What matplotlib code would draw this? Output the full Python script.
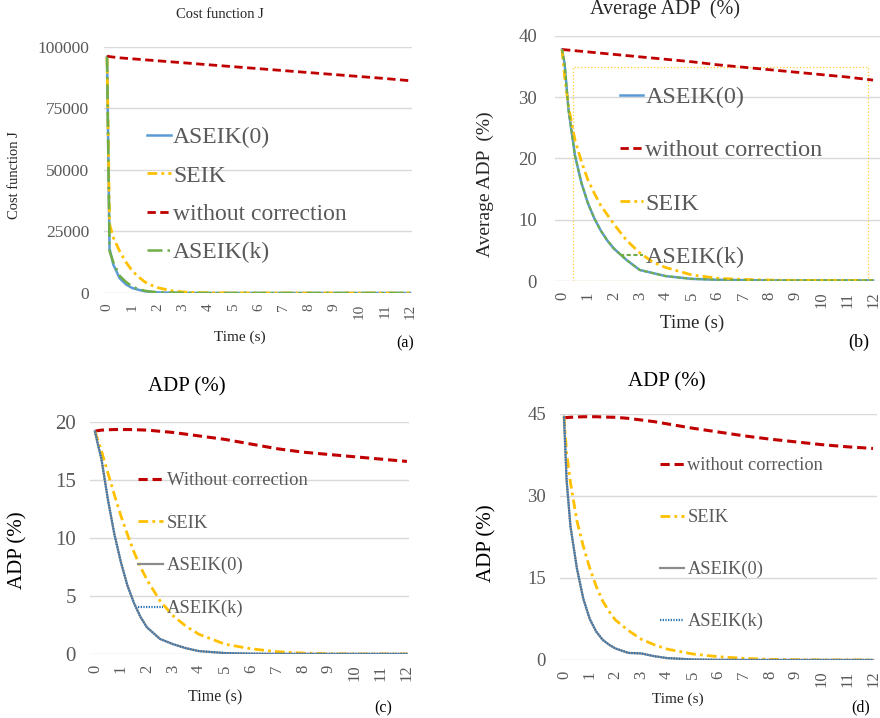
import numpy as np
import matplotlib
matplotlib.use('Agg')
import matplotlib.pyplot as plt
from matplotlib.patches import Rectangle

plt.rcParams['font.family'] = ['Liberation Serif', 'DejaVu Serif']

# sample times (s), shared by every curve
t = [0, 0.1, 0.25, 0.5, 0.75, 1, 1.25, 1.5, 1.75, 2, 2.5, 3, 3.5, 4, 5, 6, 7, 8, 9, 10, 11, 12]

# (a) cost function J
a_aseik0 = [96000, 18000, 11500, 6000, 3500, 2000, 1300, 700, 450, 250, 120, 50, 20, 0, 0, 0, 0, 0, 0, 0, 0, 0]
a_seik = [96000, 28000, 22500, 17000, 12500, 9000, 6500, 4500, 3200, 2200, 1000, 400, 200, 100, 0, 0, 0, 0, 0, 0, 0, 0]
a_nocorr = [96300, 96100, 95900, 95600, 95400, 95200, 95000, 94800, 94600, 94400, 94000, 93600, 93200, 92800,
            92000, 91200, 90400, 89600, 88800, 88000, 87200, 86300]
a_aseikk = [96000, 17000, 12500, 7000, 4500, 2600, 1600, 900, 550, 300, 150, 60, 25, 0, 0, 0, 0, 0, 0, 0, 0, 0]

# (b) average ADP (%)
b_aseik0 = [37.8, 35.5, 28.0, 20.5, 16.0, 12.7, 10.2, 8.2, 6.6, 5.3, 3.4, 1.8, 1.3, 0.8, 0.35, 0.2, 0.15, 0.1, 0.1, 0.1, 0.1, 0.1]
b_seik = [37.8, 33.5, 28.5, 23.0, 19.5, 16.5, 14.3, 12.3, 10.8, 9.3, 6.6, 4.6, 3.1, 2.2, 1.0, 0.45, 0.25, 0.15, 0.1, 0.1, 0.1, 0.1]
b_nocorr = [37.8, 37.76, 37.7, 37.6, 37.5, 37.4, 37.3, 37.2, 37.1, 37.0, 36.8, 36.6, 36.4, 36.2,
            35.8, 35.3, 34.9, 34.5, 34.1, 33.7, 33.3, 32.8]
b_aseikk = b_aseik0

# (c) ADP (%)
c_nocorr = [19.2, 19.25, 19.3, 19.33, 19.35, 19.35, 19.35, 19.34, 19.32, 19.3, 19.2, 19.1, 18.95, 18.8,
            18.5, 18.1, 17.7, 17.4, 17.2, 17.0, 16.8, 16.6]
c_seik = [19.2, 18.5, 17.5, 15.6, 13.7, 11.9, 10.3, 8.8, 7.5, 6.4, 4.6, 3.3, 2.4, 1.7, 0.85, 0.45, 0.2, 0.08, 0.03, 0.01, 0.01, 0.01]
c_aseik0 = [19.2, 18.2, 16.8, 13.3, 10.3, 7.9, 5.9, 4.4, 3.2, 2.3, 1.3, 0.85, 0.5, 0.25, 0.08, 0.03, 0.01, 0.01, 0.01, 0.01, 0.01, 0.01]
c_aseikk = c_aseik0

# (d) ADP (%)
d_nocorr = [44.3, 44.35, 44.4, 44.45, 44.5, 44.5, 44.5, 44.45, 44.42, 44.4, 44.2, 43.9, 43.6, 43.2,
            42.4, 41.7, 41.0, 40.4, 39.9, 39.4, 39.0, 38.7]
d_seik = [44.5, 38.0, 32.5, 25.5, 20.8, 16.8, 13.5, 10.8, 8.9, 7.3, 5.4, 3.8, 2.8, 2.0, 1.1, 0.6, 0.3, 0.12, 0.05, 0.02, 0.02, 0.02]
d_aseik0 = [44.5, 33.0, 24.5, 16.8, 11.2, 7.5, 5.2, 3.7, 2.8, 2.1, 1.3, 1.2, 0.7, 0.35, 0.1, 0.03, 0.01, 0.01, 0.01, 0.01, 0.01, 0.01]
d_aseikk = d_aseik0

xticks = list(range(13))

GRAY_TXT = '#595959'
DARK_TXT = '#262626'
RED = '#C00000'
GOLD = '#FFC000'
BLUE = '#5B9BD5'
GREEN = '#70AD47'
GRAY = '#8C8C8C'
NAVY = '#2E75B6'

fig = plt.figure(figsize=(8.8, 7.18), dpi=100)


def style_axes(ax, xlim, ylim, yticks, tick_fs, xtick_fs, ypad):
    ax.set_xlim(*xlim)
    ax.set_ylim(*ylim)
    for s in ax.spines.values():
        s.set_visible(False)
    ax.set_yticks(yticks)
    ax.set_yticklabels([str(v) for v in yticks])
    ax.set_xticks(xticks)
    ax.set_xticklabels([str(v) for v in xticks], rotation=90)
    ax.tick_params(axis='y', length=0, pad=ypad, labelsize=tick_fs, labelcolor=GRAY_TXT)
    ax.tick_params(axis='x', length=0, pad=7.5, labelsize=xtick_fs, labelcolor=GRAY_TXT)
    ax.grid(axis='y', color='#D9D9D9', lw=1)
    ax.set_axisbelow(True)


# ---- (a)
ax = fig.add_axes([104 / 880, (718 - 293) / 718, 308 / 880, 246 / 718])
style_axes(ax, (-0.12, 12.08), (0, 100000), [0, 25000, 50000, 75000, 100000], 12.5, 11, 10.8)
ax.plot(t, a_aseik0, color=BLUE, lw=1.8, label='ASEIK(0)')
ax.plot(t, a_seik, color=GOLD, lw=2, dashes=(3.5, 1.5, 1, 1.5), label='SEIK')
ax.plot(t, a_nocorr, color=RED, lw=2, dashes=(3, 1.6), label='without correction')
ax.plot(t, a_aseikk, color=GREEN, lw=1.8, dashes=(6, 2, 1, 2), label='ASEIK(k)')
ax.legend(loc='upper left', bbox_to_anchor=(0.14, 0.676), frameon=False, fontsize=17,
          labelcolor=GRAY_TXT, handlelength=1.0, handletextpad=0.1, labelspacing=0.71,
          borderpad=0, borderaxespad=0)
fig.text(220 / 880, 1 - 15 / 718, 'Cost function J', ha='center', va='center', fontsize=10.5, color=DARK_TXT)
fig.text(15 / 880, 1 - 175 / 718, 'Cost function J', ha='center', va='center', rotation=90, fontsize=10.5, color=DARK_TXT)
fig.text(240 / 880, 1 - 337 / 718, 'Time (s)', ha='center', va='center', fontsize=11, color=DARK_TXT)
fig.text(405 / 880, 1 - 343 / 718, '(a)', ha='center', va='center', fontsize=11.5, color='black')

# ---- (b)
ax = fig.add_axes([555 / 880, (718 - 281) / 718, 325 / 880, 245 / 718])
style_axes(ax, (-0.27, 12.27), (0, 40), [0, 10, 20, 30, 40], 13.5, 12, 13)
ax.plot(t, b_aseik0, color=BLUE, lw=1.8, label='ASEIK(0)')
ax.plot(t, b_nocorr, color=RED, lw=2, dashes=(3, 1.6), label='without correction')
ax.plot(t, b_seik, color=GOLD, lw=2, dashes=(3.5, 1.5, 1, 1.5), label='SEIK')
ax.plot(t, b_aseikk, color=GREEN, lw=1.5, dashes=(2, 1.2), label='ASEIK(k)')
ax.add_patch(Rectangle((0.055, 0.0), 0.908, 0.873, transform=ax.transAxes, fill=False,
                       ec=GOLD, lw=0.9, ls=':', alpha=0.8))
ax.legend(loc='upper left', bbox_to_anchor=(0.2, 0.795), frameon=False, fontsize=17.4,
          labelcolor=GRAY_TXT, handlelength=0.95, handletextpad=0.1, labelspacing=1.30,
          borderpad=0, borderaxespad=0)
fig.text(665 / 880, 1 - 9 / 718, 'Average ADP  (%)', ha='center', va='center', fontsize=14.5, color=DARK_TXT)
fig.text(485 / 880, 1 - 184 / 718, 'Average ADP  (%)', ha='center', va='center', rotation=90, fontsize=14, color=DARK_TXT)
fig.text(692 / 880, 1 - 323 / 718, 'Time (s)', ha='center', va='center', fontsize=13.7, color=DARK_TXT)
fig.text(859 / 880, 1 - 342 / 718, '(b)', ha='center', va='center', fontsize=13, color='black')

# ---- (c)
ax = fig.add_axes([90 / 880, (718 - 654) / 718, 319 / 880, 232 / 718])
style_axes(ax, (-0.19, 12.08), (0, 20), [0, 5, 10, 15, 20], 15, 12, 10)
ax.plot(t, c_nocorr, color=RED, lw=2.2, dashes=(3, 1.6), label='Without correction')
ax.plot(t, c_seik, color=GOLD, lw=2, dashes=(3.5, 1.5, 1, 1.5), label='SEIK')
ax.plot(t, c_aseik0, color=GRAY, lw=1.6, label='ASEIK(0)')
ax.plot(t, c_aseikk, color=NAVY, lw=1.6, dashes=(0.6, 0.6), label='ASEIK(k)')
ax.legend(loc='upper left', bbox_to_anchor=(0.15, 0.784), frameon=False, fontsize=13.4,
          labelcolor=GRAY_TXT, handlelength=1.35, handletextpad=0.2, labelspacing=1.37,
          borderpad=0, borderaxespad=0)
fig.text(187 / 880, 1 - 387 / 718, 'ADP (%)', ha='center', va='center', fontsize=15, color='black')
fig.text(18 / 880, 1 - 550 / 718, 'ADP (%)', ha='center', va='center', rotation=90, fontsize=15, color='black')
fig.text(215 / 880, 1 - 697 / 718, 'Time (s)', ha='center', va='center', fontsize=11.5, color=DARK_TXT)
fig.text(383 / 880, 1 - 708 / 718, '(c)', ha='center', va='center', fontsize=11.5, color='black')

# ---- (d)
ax = fig.add_axes([560 / 880, (718 - 660) / 718, 317 / 880, 246 / 718])
style_axes(ax, (-0.155, 12.155), (0, 45), [0, 15, 30, 45], 13.5, 12, 10)
ax.plot(t, d_nocorr, color=RED, lw=2.2, dashes=(3, 1.6), label='without correction')
ax.plot(t, d_seik, color=GOLD, lw=2, dashes=(3.5, 1.5, 1, 1.5), label='SEIK')
ax.plot(t, d_aseik0, color=GRAY, lw=1.6, label='ASEIK(0)')
ax.plot(t, d_aseikk, color=NAVY, lw=1.6, dashes=(0.6, 0.6), label='ASEIK(k)')
ax.legend(loc='upper left', bbox_to_anchor=(0.315, 0.824), frameon=False, fontsize=13.2,
          labelcolor=GRAY_TXT, handlelength=1.3, handletextpad=0.2, labelspacing=1.90,
          borderpad=0, borderaxespad=0)
fig.text(667 / 880, 1 - 382 / 718, 'ADP (%)', ha='center', va='center', fontsize=15, color='black')
fig.text(487 / 880, 1 - 543 / 718, 'ADP (%)', ha='center', va='center', rotation=90, fontsize=15, color='black')
fig.text(678 / 880, 1 - 699 / 718, 'Time (s)', ha='center', va='center', fontsize=11, color=DARK_TXT)
fig.text(861 / 880, 1 - 707 / 718, '(d)', ha='center', va='center', fontsize=11.5, color='black')

fig.savefig('out.png', dpi=100)
